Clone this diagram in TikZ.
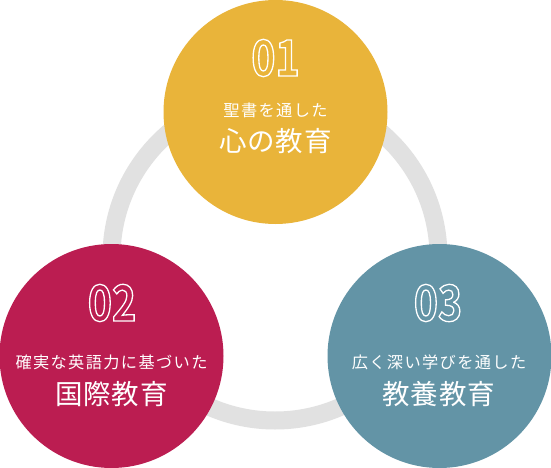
\documentclass[tikz,border=0pt]{standalone}
\usepackage{fontspec}
\setmainfont{Noto Sans CJK JP}
\newfontfamily\numfont[FakeStretch=0.82]{Noto Sans CJK JP Bold}
\definecolor{cyellow}{HTML}{E9B43A}
\definecolor{ccrimson}{HTML}{BB1D51}
\definecolor{cteal}{HTML}{6394A6}
\definecolor{cring}{HTML}{E1E1E1}
\tikzset{
  bub/.style={circle, minimum size=224pt, inner sep=0pt, draw=none},
  numtxt/.style={inner sep=0pt, text=white, font=\numfont\fontsize{50}{50}\selectfont},
  subtxt/.style={inner sep=0pt, text=white, font=\fontsize{16.2}{16}\selectfont\addfontfeatures{LetterSpace=8.5}},
  maintxt/.style={inner sep=0pt, text=white, font=\fontsize{27.5}{27}\selectfont\addfontfeatures{LetterSpace=3.5}},
}
\newcommand{\outl}[1]{\special{pdf:literal direct 1 Tr 1.3 w}#1\special{pdf:literal direct 0 Tr}}
\begin{document}
\begin{tikzpicture}[x=1pt,y=-1pt]
\useasboundingbox (0,0) rectangle (551,468);
\fill[white] (0,0) rectangle (551,468);
\draw[cring, line width=18pt] (275,257) circle[radius=163.5];
\node[bub, fill=cyellow] (c1) at (275.5,112) {};
\node[bub, fill=ccrimson] (c2) at (111.5,356) {};
\node[bub, fill=cteal] (c3) at (439.5,356) {};
\node[numtxt] (n1) at (275.5,58) {\outl{01}};
\node[subtxt] (s1) at (275.5,110.5) {聖書を通した};
\node[maintxt] (m1) at (275.5,141.5) {心の教育};
\node[numtxt] (n2) at (112,303) {\outl{02}};
\node[subtxt] (s2) at (111.5,362.5) {確実な英語力に基づいた};
\node[maintxt] (m2) at (111.5,394.5) {国際教育};
\node[numtxt] (n3) at (438,303) {\outl{03}};
\node[subtxt] (s3) at (439,362.5) {広く深い学びを通した};
\node[maintxt] (m3) at (439,394.5) {教養教育};
\end{tikzpicture}
\end{document}
